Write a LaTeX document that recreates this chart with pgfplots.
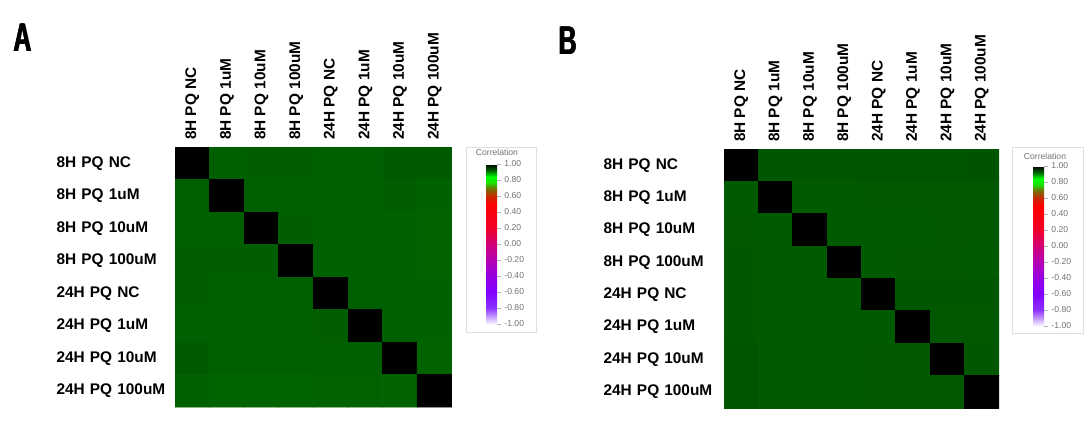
\documentclass[border=0pt]{standalone}
\usepackage{fontspec}
\setmainfont{Liberation Sans}
\usepackage{graphicx}
\usepackage{pgfplots}
\usepackage{pgfplotstable}
\pgfplotsset{compat=1.18}

% correlation matrices, row y (top = 0), column x
\pgfplotstableread{
x y c
0 0 1.000
1 0 0.924
2 0 0.925
3 0 0.925
4 0 0.924
5 0 0.924
6 0 0.928
7 0 0.928
0 1 0.923
1 1 1.000
2 1 0.924
3 1 0.924
4 1 0.923
5 1 0.923
6 1 0.925
7 1 0.922
0 2 0.924
1 2 0.923
2 2 1.000
3 2 0.925
4 2 0.923
5 2 0.922
6 2 0.922
7 2 0.921
0 3 0.925
1 3 0.925
2 3 0.925
3 3 1.000
4 3 0.922
5 3 0.922
6 3 0.922
7 3 0.921
0 4 0.925
1 4 0.924
2 4 0.924
3 4 0.924
4 4 1.000
5 4 0.924
6 4 0.924
7 4 0.922
0 5 0.924
1 5 0.924
2 5 0.923
3 5 0.923
4 5 0.925
5 5 1.000
6 5 0.924
7 5 0.922
0 6 0.927
1 6 0.923
2 6 0.923
3 6 0.923
4 6 0.924
5 6 0.924
6 6 1.000
7 6 0.921
0 7 0.922
1 7 0.920
2 7 0.920
3 7 0.920
4 7 0.921
5 7 0.921
6 7 0.921
7 7 1.000
}\dataA

\pgfplotstableread{
x y c
0 0 1.000
1 0 0.931
2 0 0.931
3 0 0.932
4 0 0.931
5 0 0.931
6 0 0.931
7 0 0.933
0 1 0.928
1 1 1.000
2 1 0.928
3 1 0.928
4 1 0.929
5 1 0.929
6 1 0.929
7 1 0.929
0 2 0.929
1 2 0.927
2 2 1.000
3 2 0.928
4 2 0.928
5 2 0.928
6 2 0.929
7 2 0.929
0 3 0.930
1 3 0.927
2 3 0.927
3 3 1.000
4 3 0.928
5 3 0.929
6 3 0.929
7 3 0.928
0 4 0.930
1 4 0.928
2 4 0.928
3 4 0.927
4 4 1.000
5 4 0.930
6 4 0.930
7 4 0.930
0 5 0.930
1 5 0.928
2 5 0.928
3 5 0.928
4 5 0.928
5 5 1.000
6 5 0.929
7 5 0.929
0 6 0.931
1 6 0.928
2 6 0.928
3 6 0.928
4 6 0.929
5 6 0.929
6 6 1.000
7 6 0.930
0 7 0.931
1 7 0.928
2 7 0.928
3 7 0.928
4 7 0.929
5 7 0.929
6 7 0.929
7 7 1.000
}\dataB

\newcommand\lab{\bfseries\fontsize{7.7}{9}\selectfont}
\newcommand\tinyf{\fontsize{4.3}{4.8}\selectfont}
\newcommand\panel[1]{\scalebox{0.62}[1]{\fontsize{20}{20}\selectfont\bfseries #1}}

\pgfplotsset{
  colormap={corr}{rgb255(0pt)=(250,248,255) rgb255(20pt)=(140,50,255)
    rgb255(40pt)=(130,0,255) rgb255(60pt)=(150,0,225) rgb255(80pt)=(180,0,180)
    rgb255(100pt)=(210,0,120) rgb255(120pt)=(240,0,40) rgb255(150pt)=(255,0,0)
    rgb255(160pt)=(200,40,0) rgb255(170pt)=(110,120,0) rgb255(176pt)=(30,220,0)
    rgb255(184pt)=(0,255,0) rgb255(192pt)=(0,100,0) rgb255(200pt)=(0,0,0)},
  hm/.style={
    scale only axis,
    y dir=reverse,
    xmin=-0.5, xmax=7.5, ymin=-0.5, ymax=7.5,
    enlargelimits=false,
    axis line style={draw=none},
    major tick length=0pt,
    xtick={0,...,7}, ytick={0,...,7},
    xticklabels={8H PQ NC,8H PQ 1uM,8H PQ 10uM,8H PQ 100uM,24H PQ NC,24H PQ 1uM,24H PQ 10uM,24H PQ 100uM},
    yticklabels={8H PQ NC,8H PQ 1uM,8H PQ 10uM,8H PQ 100uM,24H PQ NC,24H PQ 1uM,24H PQ 10uM,24H PQ 100uM},
    xticklabel pos=upper,
    x tick label style={rotate=90, anchor=west, font=\lab},
    y tick label style={anchor=east, text width=55pt, align=left, inner sep=0pt, font=\lab},
    colormap name=corr,
    point meta min=-1, point meta max=1,
    colorbar,
    colorbar style={
      at={(parent axis.north east)}, anchor=north west,
      xshift=8.5pt, yshift=-8.5pt,
      width=5.5pt, height=80pt,
      ytick={-1,-0.8,-0.6,-0.4,-0.2,0,0.2,0.4,0.6,0.8,1},
      yticklabel pos=right,
      ytick pos=right,
      tick align=outside,
      major tick length=2pt,
      tick style={gray!60, line width=0.3pt},
      axis line style={draw=none},
      y tick label style={font=\tinyf, text=gray!90!black, text width={}, align=left,
        anchor=west, inner sep=1.5pt,
        /pgf/number format/assume math mode=true,
        /pgf/number format/fixed, /pgf/number format/fixed zerofill,
        /pgf/number format/precision=2},
    },
  },
}

\begin{document}
\begin{tikzpicture}
% colour-key frames and titles
\draw[gray!25, fill=white] (233pt,51pt) rectangle (268pt,143.5pt);
\node[text=gray!90!black, font=\tinyf] at (248.5pt,141pt) {Correlation};
\draw[gray!25, fill=white] (506pt,50.5pt) rectangle (541.5pt,143.5pt);
\node[text=gray!90!black, font=\tinyf] at (522.5pt,139pt) {Correlation};

\begin{axis}[hm, at={(87.5pt,13.5pt)}, anchor=south west,
  width=138.5pt, height=130pt,
  y tick label style={xshift=-4pt}]
\addplot[matrix plot*, mesh/cols=8, point meta=explicit] table[meta=c] {\dataA};
\end{axis}

\begin{axis}[hm, at={(362pt,13pt)}, anchor=south west,
  width=137.5pt, height=129.5pt,
  y tick label style={xshift=-5pt}]
\addplot[matrix plot*, mesh/cols=8, point meta=explicit] table[meta=c] {\dataB};
\end{axis}

% panel letters, drawn three times side by side for a heavier stroke
\foreach \dx in {0pt,0.35pt,0.7pt} {
  \node at ([xshift=\dx]11pt,198pt) {\panel{A}};
  \node at ([xshift=\dx]283.7pt,196.5pt) {\panel{B}};
}

\pgfresetboundingbox
\useasboundingbox (0,0) rectangle (542.5pt,217pt);
\end{tikzpicture}
\end{document}
